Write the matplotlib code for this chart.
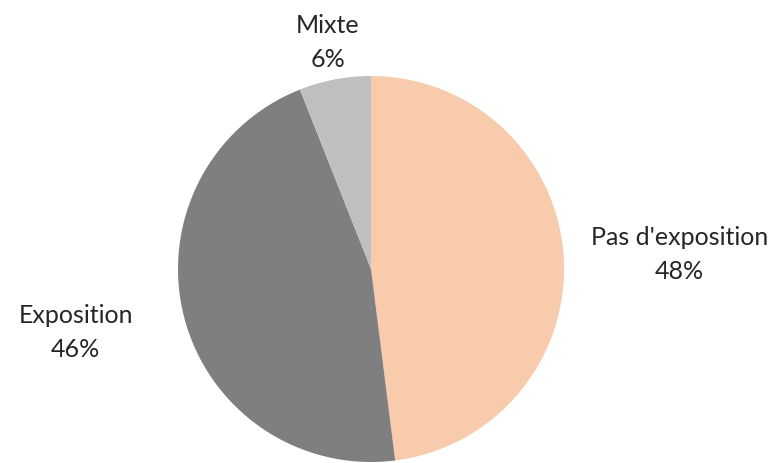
import numpy as np
import matplotlib
matplotlib.use('Agg')
import matplotlib.pyplot as plt

# data
labels = ["Pas d'exposition", 'Exposition', 'Mixte']
values = [48, 46, 6]
colors = ['#F8CBAD', '#7F7F7F', '#BFBFBF']
# label distance from centre (radius units) and small vertical nudge, like Excel best fit
label_dist = [1.60, 1.58, 1.20]
label_dy = [-0.02, 0.07, 0.0]

plt.rcParams['font.family'] = ['Lato', 'DejaVu Sans']

fig = plt.figure(figsize=(7.79, 4.64), dpi=100)
# pie centre ~ (371, 270) px, radius ~193 px
r_px = 193
ax = fig.add_axes([(371 - r_px) / 779, (194 - r_px) / 464, 2 * r_px / 779, 2 * r_px / 464])

wedges, _ = ax.pie(values, colors=colors, startangle=90, counterclock=False,
                   radius=1.0, wedgeprops=dict(linewidth=0))
ax.set_xlim(-1, 1)
ax.set_ylim(-1, 1)
ax.set_aspect('equal')
ax.axis('off')

total = sum(values)
for w, lab, v, d, dy in zip(wedges, labels, values, label_dist, label_dy):
    ang = np.deg2rad((w.theta1 + w.theta2) / 2)
    x = d * np.cos(ang)
    y = d * np.sin(ang) + dy
    ax.text(x, y, lab + '\n' + str(round(100 * v / total)) + '%',
            ha='center', va='center', fontsize=18, color='#262626',
            linespacing=1.55, clip_on=False)

fig.savefig('out.png', dpi=100)
